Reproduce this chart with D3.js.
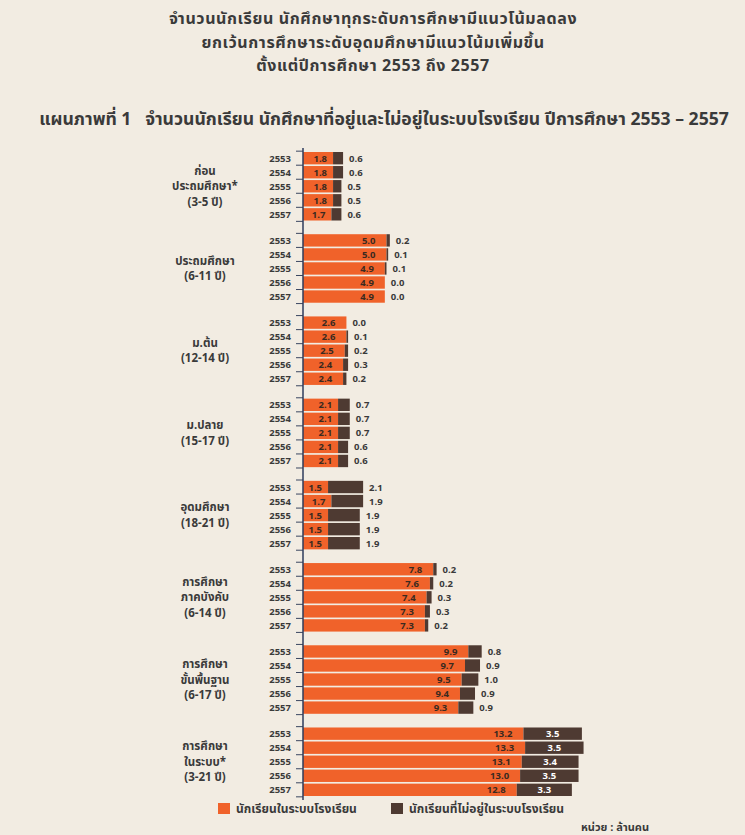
<!DOCTYPE html>
<html>
<head>
<meta charset="utf-8">
<script src="https://cdn.jsdelivr.net/npm/d3@7"></script>
<style>
  body { margin: 0; background: #f2ece2; }
  svg { display: block; font-family: "Noto Sans Thai", "Noto Sans", "DejaVu Sans", sans-serif; }
</style>
</head>
<body>
<div id="chart"></div>
<script>
const groups = [
  ['ก่อน', 'ประถมศึกษา*', '(3-5 ปี)'],
  ['ประถมศึกษา', '(6-11 ปี)'],
  ['ม.ต้น', '(12-14 ปี)'],
  ['ม.ปลาย', '(15-17 ปี)'],
  ['อุดมศึกษา', '(18-21 ปี)'],
  ['การศึกษา', 'ภาคบังคับ', '(6-14 ปี)'],
  ['การศึกษา', 'ขั้นพื้นฐาน', '(6-17 ปี)'],
  ['การศึกษา', 'ในระบบ*', '(3-21 ปี)']
];
const years = ['2553', '2554', '2555', '2556', '2557'];
// in school (million)
const inSchool = [
  [1.8, 1.8, 1.8, 1.8, 1.7],
  [5.0, 5.0, 4.9, 4.9, 4.9],
  [2.6, 2.6, 2.5, 2.4, 2.4],
  [2.1, 2.1, 2.1, 2.1, 2.1],
  [1.5, 1.7, 1.5, 1.5, 1.5],
  [7.8, 7.6, 7.4, 7.3, 7.3],
  [9.9, 9.7, 9.5, 9.4, 9.3],
  [13.2, 13.3, 13.1, 13.0, 12.8]
];
// out of school (million)
const outSchool = [
  [0.6, 0.6, 0.5, 0.5, 0.6],
  [0.2, 0.1, 0.1, 0.0, 0.0],
  [0.0, 0.1, 0.2, 0.3, 0.2],
  [0.7, 0.7, 0.7, 0.6, 0.6],
  [2.1, 1.9, 1.9, 1.9, 1.9],
  [0.2, 0.2, 0.3, 0.3, 0.2],
  [0.8, 0.9, 1.0, 0.9, 0.9],
  [3.5, 3.5, 3.4, 3.5, 3.3]
];
const titleLines = [
  'จำนวนนักเรียน นักศึกษาทุกระดับการศึกษามีแนวโน้มลดลง',
  'ยกเว้นการศึกษาระดับอุดมศึกษามีแนวโน้มเพิ่มขึ้น',
  'ตั้งแต่ปีการศึกษา 2553 ถึง 2557'
];
const subTitle = 'แผนภาพที่ 1   จำนวนนักเรียน นักศึกษาที่อยู่และไม่อยู่ในระบบโรงเรียน ปีการศึกษา 2553 – 2557';
const legendLabels = ['นักเรียนในระบบโรงเรียน', 'นักเรียนที่ไม่อยู่ในระบบโรงเรียน'];
const unitLabel = 'หน่วย : ล้านคน';

const W = 745, H = 835;
const colIn = '#f0622a', colOut = '#4e3a32', textCol = '#3a3a3a';
const axisX = 303;

const svg = d3.select('#chart').append('svg').attr('width', W).attr('height', H);
svg.append('rect').attr('width', W).attr('height', H).attr('fill', '#f2ece2');

svg.selectAll('.title').data(titleLines).enter().append('text')
  .attr('x', 373).attr('y', (d, i) => 24 + i * 23.5)
  .attr('text-anchor', 'middle').attr('font-size', 16).attr('font-weight', 'bold')
  .attr('letter-spacing', 0.6).attr('fill', textCol).text(d => d);

svg.append('text').attr('x', 384).attr('y', 125).attr('text-anchor', 'middle')
  .attr('font-size', 17.6).attr('font-weight', 'bold').attr('fill', textCol)
  .attr('xml:space', 'preserve').style('white-space', 'pre').text(subTitle);

const x = d3.scaleLinear().domain([0, 1]).range([axisX, axisX + 16.7]);
const yGroup = d3.scaleBand().domain(d3.range(groups.length))
  .range([152, 796]).paddingInner(1 / 6);
const yYear = d3.scaleBand().domain(years).range([0, yGroup.bandwidth()]).paddingInner(0.12);

const g = svg.selectAll('.grp').data(groups).enter().append('g')
  .attr('transform', (d, i) => `translate(0,${yGroup(i)})`);

// group labels
g.each(function (lines) {
  const n = lines.length;
  const mid = yGroup.bandwidth() / 2;
  d3.select(this).selectAll('.gl').data(lines).enter().append('text')
    .attr('x', 205).attr('y', (d, i) => mid + (i - (n - 1) / 2) * 15.5 + 4)
    .attr('text-anchor', 'middle').attr('font-size', 11.5).attr('font-weight', 'bold')
    .attr('fill', textCol).text(d => d);
});

// ticks on row boundaries
g.each(function () {
  const step = yYear.step();
  d3.select(this).selectAll('.tk').data(d3.range(years.length + 1)).enter().append('line')
    .attr('x1', axisX - 7).attr('x2', axisX)
    .attr('y1', d => d * step - step * 0.06).attr('y2', d => d * step - step * 0.06)
    .attr('stroke', '#3a4660').attr('stroke-width', 1);
});

g.each(function (lines, gi) {
  const sel = d3.select(this);
  const rows = years.map((yr, i) => ({ yr, a: inSchool[gi][i], b: outSchool[gi][i] }));
  const bh = yYear.bandwidth();

  sel.selectAll('.yr').data(rows).enter().append('text')
    .attr('x', 291).attr('y', d => yYear(d.yr) + bh / 2 + 3.5)
    .attr('text-anchor', 'end').attr('font-size', 9.5).attr('font-weight', 'bold')
    .attr('fill', textCol).text(d => d.yr);

  sel.selectAll('.ba').data(rows).enter().append('rect')
    .attr('x', x(0)).attr('y', d => yYear(d.yr))
    .attr('width', d => x(d.a) - x(0)).attr('height', bh).attr('fill', colIn);

  sel.selectAll('.bb').data(rows).enter().append('rect')
    .attr('x', d => x(d.a)).attr('y', d => yYear(d.yr))
    .attr('width', d => x(d.a + d.b) - x(d.a))
    .attr('height', bh).attr('fill', colOut);

  sel.selectAll('.la').data(rows).enter().append('text')
    .attr('x', d => x(d.a) - (d.a < 2.2 ? 6 : 11)).attr('y', d => yYear(d.yr) + bh / 2 + 3.5)
    .attr('text-anchor', 'end').attr('font-size', 9.5).attr('font-weight', 'bold')
    .attr('fill', '#3a2a20').text(d => d.a.toFixed(1));

  const inside = gi === groups.length - 1;
  sel.selectAll('.lb').data(rows).enter().append('text')
    .attr('x', d => inside ? (x(d.a) + x(d.a + d.b)) / 2 : x(d.a + d.b) + 6)
    .attr('y', d => yYear(d.yr) + bh / 2 + 3.5)
    .attr('text-anchor', inside ? 'middle' : 'start').attr('font-size', 9.5).attr('font-weight', 'bold')
    .attr('fill', inside ? '#ffffff' : textCol).text(d => d.b.toFixed(1));
});

// axis line
svg.append('line').attr('x1', axisX).attr('x2', axisX).attr('y1', 148).attr('y2', 800)
  .attr('stroke', '#2e3d5c').attr('stroke-width', 1.5);

// legend
const legend = svg.append('g').attr('transform', 'translate(0,809)');
const lx = [218, 391];
legend.selectAll('rect').data(legendLabels).enter().append('rect')
  .attr('x', (d, i) => lx[i]).attr('y', -6).attr('width', 12).attr('height', 11)
  .attr('fill', (d, i) => i === 0 ? colIn : colOut);
legend.selectAll('text').data(legendLabels).enter().append('text')
  .attr('x', (d, i) => lx[i] + 18).attr('y', 4)
  .attr('font-size', 12).attr('font-weight', 'bold').attr('fill', textCol).text(d => d);

svg.append('text').attr('x', 581).attr('y', 831).attr('font-size', 11).attr('font-weight', 'bold')
  .attr('fill', textCol).text(unitLabel);
</script>
</body>
</html>
